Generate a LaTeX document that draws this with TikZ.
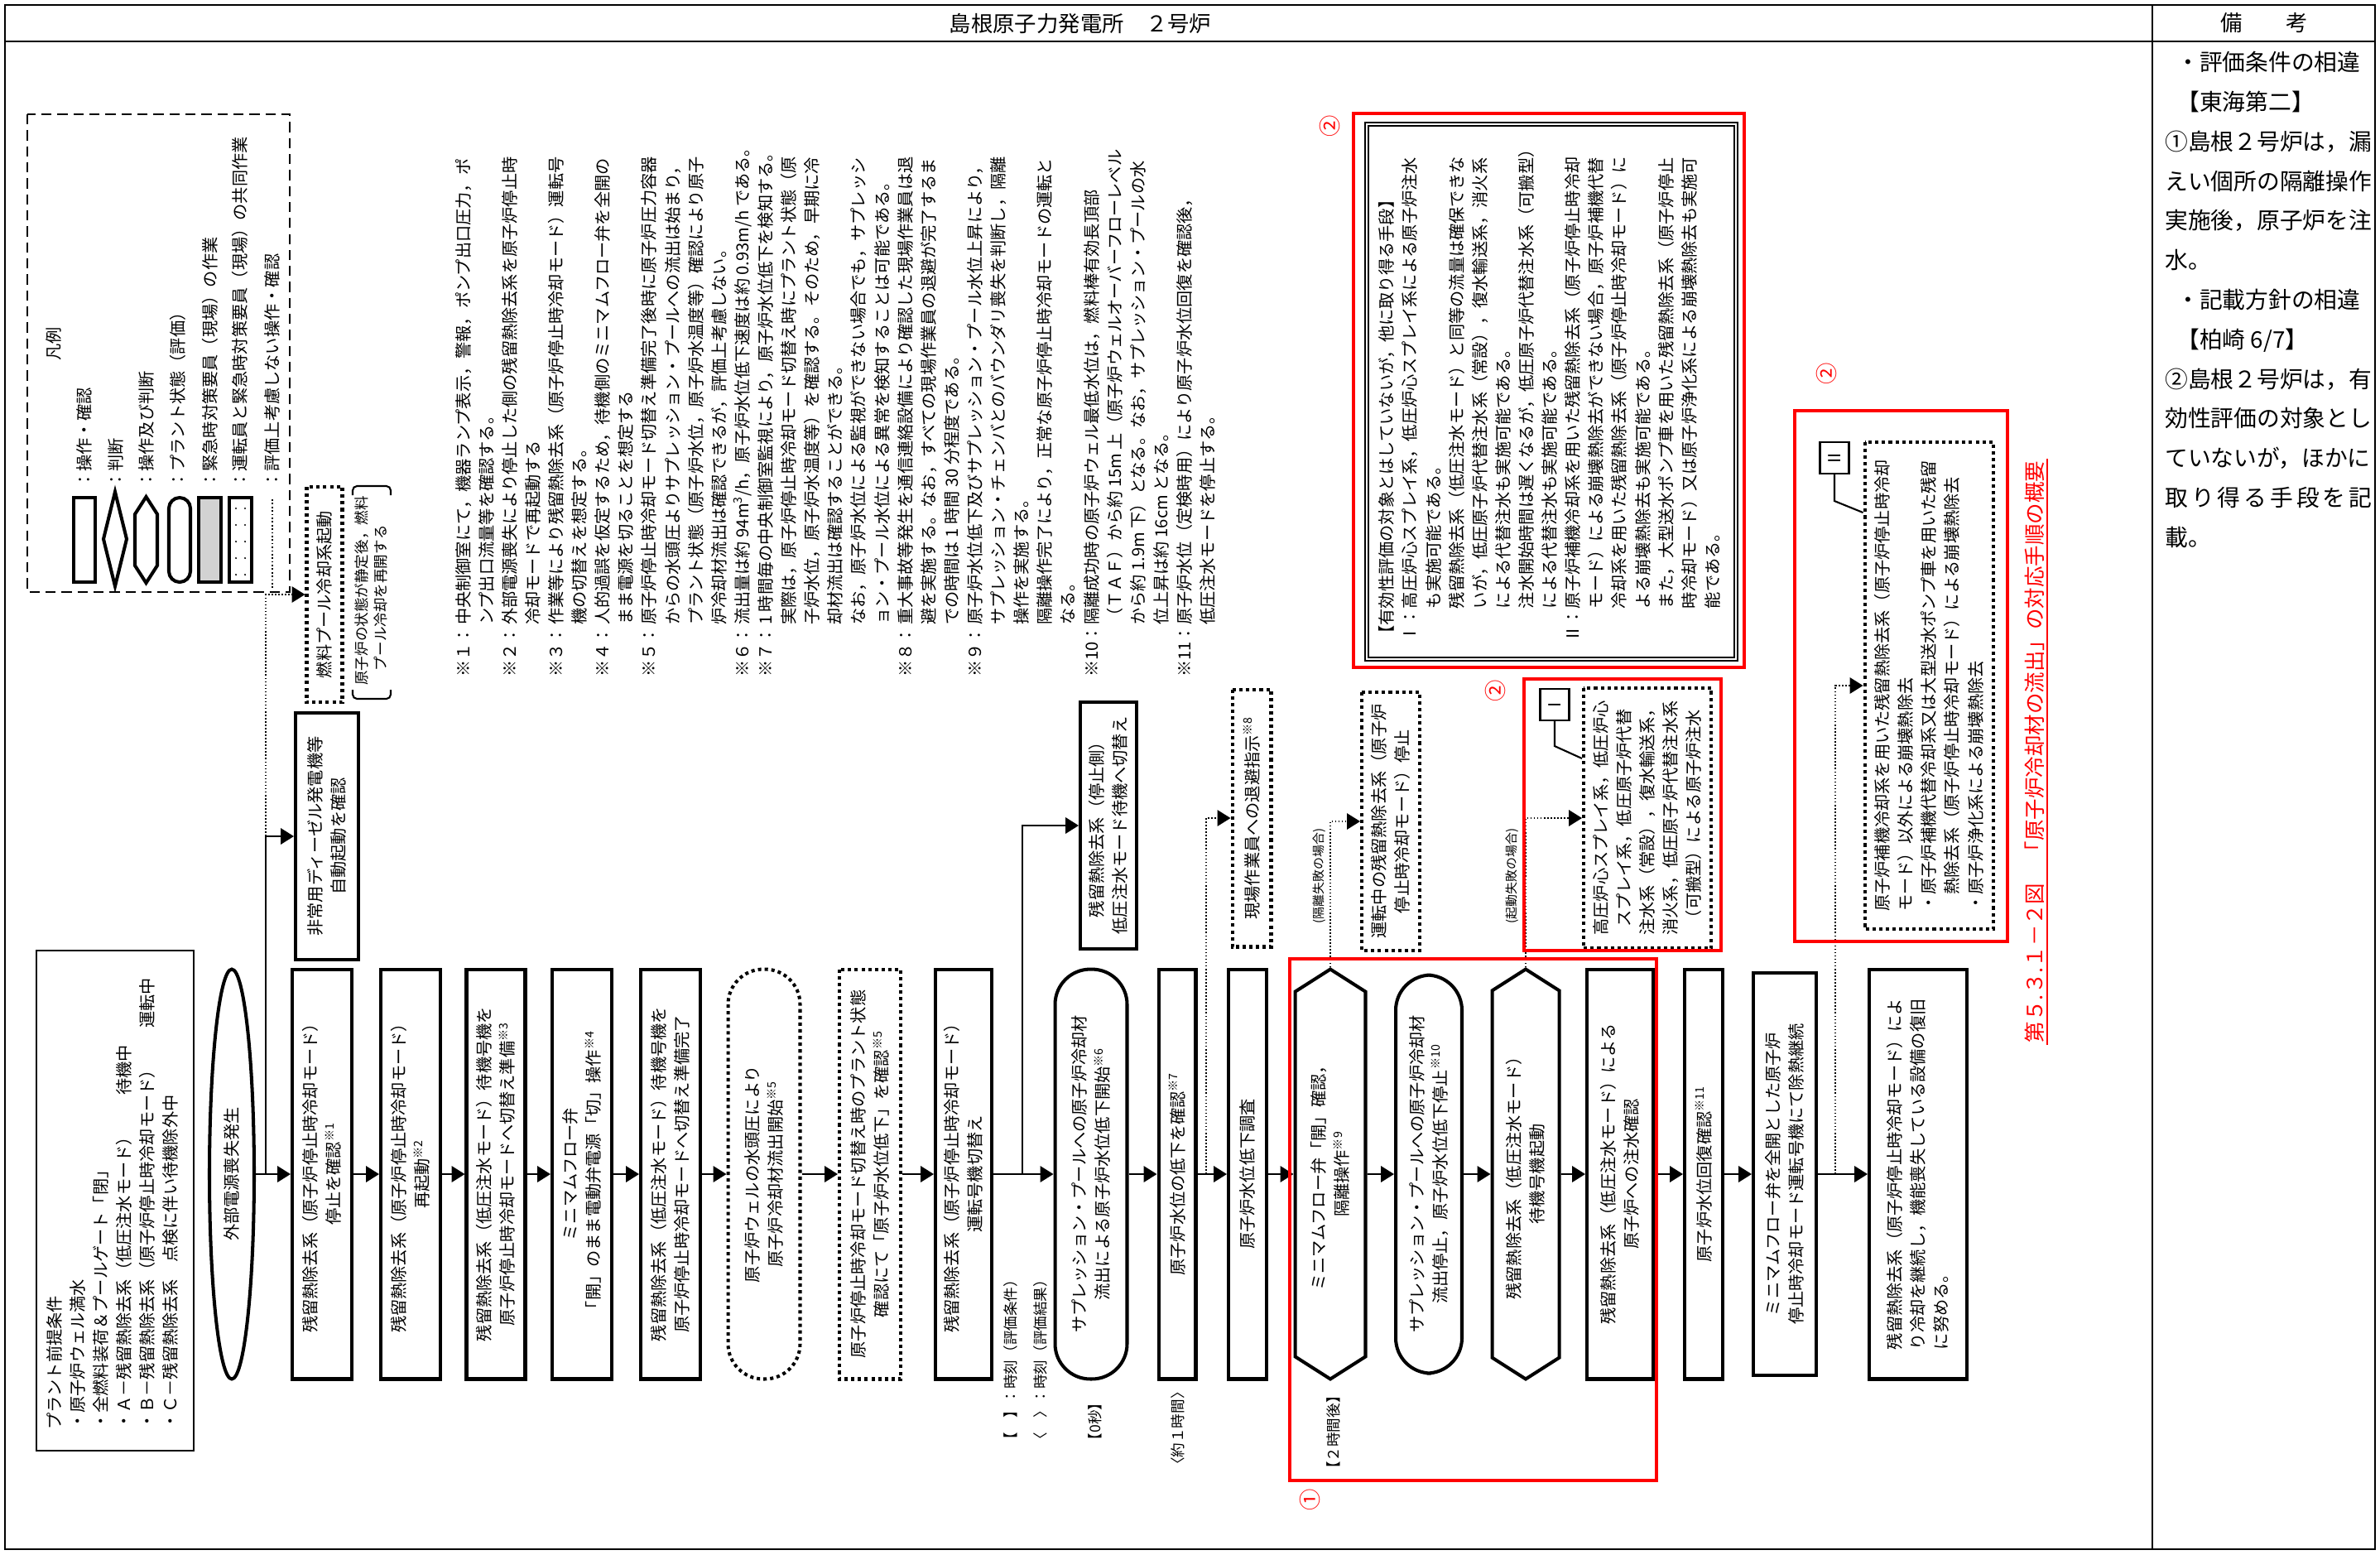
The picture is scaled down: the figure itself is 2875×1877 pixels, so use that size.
\documentclass[tikz,border=0pt]{standalone}
\usepackage{fontspec}
\setmainfont{Noto Sans CJK JP}
\usetikzlibrary{shapes.geometric,shapes.symbols,arrows.meta,positioning}
\newcommand\fs{\fontsize{11.5}{16}\selectfont}
\newcommand\sfs{\fontsize{10}{13.5}\selectfont}
\newcommand\tfs{\fontsize{8.5}{10}\selectfont}
\newcommand\rfs{\fontsize{15.8}{27.2}\selectfont}
\newcommand\hfs{\fontsize{15}{18}\selectfont}
\newcommand\cfs{\fontsize{14.5}{18}\selectfont}
\newcommand\nt[1]{\textsuperscript{※#1}}

\begin{document}
\begin{tikzpicture}[x=0.02cm, y=-0.02cm,
    proc/.style={rectangle, draw, line width=2.3pt, rotate=90, align=center, font=\fs, minimum width=9.9cm, inner sep=2pt},
    plant/.style={proc, rounded corners=0.85cm},
    judge/.style={proc, signal, signal to=east and west, signal pointer angle=115},
    field/.style={proc, dash pattern=on 2.3pt off 2.3pt},
    fieldplant/.style={plant, dash pattern=on 2.3pt off 2.3pt},
    tag/.style={draw, line width=1.2pt, rotate=90, font=\fs, minimum width=0.76cm, minimum height=0.7cm, inner sep=0pt},
    lbl/.style={rotate=90, font=\sfs, inner sep=1pt},
    txt/.style={rotate=90, font=\fs, align=left, inner sep=0pt},
    circnum/.style={rotate=90, text=red, font=\hfs, inner sep=0pt},
    redbox/.style={draw=red, line width=2.6pt},
    arrow/.style={-{Triangle[length=9pt, width=11pt]}, line width=1.1pt},
    dotarrow/.style={arrow, line width=0.9pt, dash pattern=on 0.9pt off 1.4pt},
    lead/.style={line width=1.2pt}
  ]
  \useasboundingbox (0,0) rectangle (2875,1877);

  % page frame
  \draw[line width=1pt] (6,6) rectangle (2869,1871);
  \draw[line width=1pt] (6,50) -- (2869,50);
  \draw[line width=1pt] (2600,6) -- (2600,1871);
  \node[font=\hfs] (title) at (1305,28) {島根原子力発電所　２号炉};
  \node[font=\hfs] (remhead) at (2735,28) {備　　考};
  \node[anchor=north west, font=\rfs, align=left, inner sep=0pt] (remarks) at (2615,62) {%
    \hspace*{0.5em}・評価条件の相違\\
    \hspace*{0.5em}【東海第二】\\
    ①島根２号炉は，漏\\
    えい個所の隔離操作\\
    実施後，原子炉を注\\
    水。\\
    \hspace*{0.5em}・記載方針の相違\\
    \hspace*{0.5em}【柏崎 6/7】\\
    ②島根２号炉は，有\\
    効性評価の対象とし\\
    ていないが，ほかに\\
    \makebox[9em][s]{取\hfill り\hfill 得\hfill る\hfill 手\hfill 段\hfill を\hfill 記}\\
    載。};

  % legend
  \draw[line width=1.5pt, dash pattern=on 7pt off 4pt] (33,138) rectangle (350,715);
  \node[lbl, font=\fs] (legtitle) at (65,415) {凡例};
  \draw[line width=2.3pt] (89,601) rectangle (115,703);
  \draw[line width=2.3pt] (139,594) -- (153,651) -- (139,708) -- (125,651) -- cycle;
  \draw[line width=2.3pt] (163,621) -- (176.5,600) -- (190,621) -- (190,683) -- (176.5,704) -- (163,683) -- cycle;
  \draw[line width=2.3pt, rounded corners=0.26cm] (204,601) rectangle (230,703);
  \draw[line width=2.3pt, fill=gray!35] (240,601) rectangle (267,703);
  \draw[line width=2.3pt] (277,601) rectangle (304,703);
  \foreach \yy in {614,634,...,694} {\fill (285,\yy) circle (0.7pt); \fill (296,\yy) circle (0.7pt);}
  \draw[line width=1.1pt, dash pattern=on 1pt off 1.5pt] (329,603) -- (329,710);
  \node[txt, anchor=west] (leg1) at (102,590) {：操作・確認};
  \node[txt, anchor=west] (leg2) at (140,590) {：判断};
  \node[txt, anchor=west] (leg3) at (177,590) {：操作及び判断};
  \node[txt, anchor=west] (leg4) at (215,590) {：プラント状態（評価）};
  \node[txt, anchor=west] (leg5) at (254,590) {：緊急時対策要員（現場）の作業};
  \node[txt, anchor=west] (leg6) at (290,590) {：運転員と緊急時対策要員（現場）の共同作業};
  \node[txt, anchor=west] (leg7) at (329,590) {：評価上考慮しない操作・確認};

  % plant conditions
  \draw[line width=1pt] (44,1148) rectangle (234,1752);
  \node[txt, anchor=north west] (cond) at (56,1727) {プラント前提条件\\・原子炉ウェル満水\\・全燃料装荷＆プールゲート「閉」\\・Ａ－残留熱除去系（低圧注水モード）　　待機中\\・Ｂ－残留熱除去系（原子炉停止時冷却モード）　　運転中\\・Ｃ－残留熱除去系　点検に伴い待機除外中};

  % notes
  \node[txt, anchor=north west] (notes) at (547,818) {%
    \begin{tabular}{@{}l@{}l@{}}
    ※１：& 中央制御室にて，機器ランプ表示，警報，ポンプ出口圧力，ポ\\
         & ンプ出口流量等を確認する。\\
    ※２：& 外部電源喪失により停止した側の残留熱除去系を原子炉停止時\\
         & 冷却モードで再起動する\\
    ※３：& 作業等により残留熱除去系（原子炉停止時冷却モード）運転号\\
         & 機の切替えを想定する。\\
    ※４：& 人的過誤を仮定するため，待機側のミニマムフロー弁を全開の\\
         & まま電源を切ることを想定する\\
    ※５：& 原子炉停止時冷却モード切替え準備完了後時に原子炉圧力容器\\
         & からの水頭圧よりサプレッション・プールへの流出は始まり，\\
         & プラント状態（原子炉水位，原子炉水温度等）確認により原子\\
         & 炉冷却材流出は確認できるが，評価上考慮しない。\\
    ※６：& 流出量は約 94m\textsuperscript{3}/h，原子炉水位低下速度は約 0.93m/h である。\\
    ※７：& 1 時間毎の中央制御室監視により，原子炉水位低下を検知する。\\
         & 実際は，原子炉停止時冷却モード切替え時にプラント状態（原\\
         & 子炉水位，原子炉水温度等）を確認する。そのため，早期に冷\\
         & 却材流出は確認することができる。\\
         & なお，原子炉水位による監視ができない場合でも，サプレッシ\\
         & ョン・プール水位による異常を検知することは可能である。\\
    ※８：& 重大事故等発生を通信連絡設備により確認した現場作業員は退\\
         & 避を実施する。なお，すべての現場作業員の退避が完了するま\\
         & での時間は 1 時間 30 分程度である。\\
    ※９：& 原子炉水位低下及びサプレッション・プール水位上昇により，\\
         & サプレッション・チェンバとのバウンダリ喪失を判断し，隔離\\
         & 操作を実施する。\\
         & 隔離操作完了により，正常な原子炉停止時冷却モードの運転と\\
         & なる。\\
    ※10：& 隔離成功時の原子炉ウェル最低水位は，燃料棒有効長頂部\\
         & （ＴＡＦ）から約 15m 上（原子炉ウェルオーバーフローレベル\\
         & から約 1.9m 下）となる。なお，サプレッション・プールの水\\
         & 位上昇は約 16cm となる。\\
    ※11：& 原子炉水位（定検時用）により原子炉水位回復を確認後，\\
         & 低圧注水モードを停止する。
    \end{tabular}};

  % upper branch at the start
  \node[proc, minimum width=5.96cm, minimum height=1.52cm] (dg) at (395,1010) {非常用ディーゼル発電機等\\自動起動を確認};
  \node[field, minimum width=5.2cm, minimum height=0.86cm] (fpc) at (392,718) {燃料プール冷却系起動};
  \node[txt, font=\sfs, anchor=north west] (fpcnote) at (428,828) {原子炉の状態が静定後，燃料\\　プール冷却を再開する};
  \draw[line width=1.2pt, rounded corners=3pt] (426,598) -- (426,587) -- (472,587) -- (472,598);
  \draw[line width=1.2pt, rounded corners=3pt] (426,833) -- (426,844) -- (472,844) -- (472,833);

  % main sequence
  \node[proc, ellipse, minimum height=1.08cm] (ext) at (280,1418) {外部電源喪失発生};
  \node[proc, minimum height=1.44cm] (b1) at (389,1418) {残留熱除去系（原子炉停止時冷却モード）\\停止を確認\nt{1}};
  \node[proc, minimum height=1.44cm] (b2) at (496,1418) {残留熱除去系（原子炉停止時冷却モード）\\再起動\nt{2}};
  \node[proc, minimum height=1.42cm] (b3) at (599,1418) {残留熱除去系（低圧注水モード）待機号機を\\原子炉停止時冷却モードへ切替え準備\nt{3}};
  \node[proc, minimum height=1.44cm] (b4) at (703,1418) {ミニマムフロー弁\\「開」のまま電動弁電源「切」操作\nt{4}};
  \node[proc, minimum height=1.44cm] (b5) at (810,1418) {残留熱除去系（低圧注水モード）待機号機を\\原子炉停止時冷却モードへ切替え準備完了};
  \node[fieldplant, minimum height=1.74cm] (flow) at (923,1418) {原子炉ウェルの水頭圧により\\原子炉冷却材流出開始\nt{5}};
  \node[field, minimum height=1.48cm] (chk) at (1051,1418) {原子炉停止時冷却モード切替え時のプラント状態\\確認にて「原子炉水位低下」を確認\nt{5}};
  \node[proc, minimum height=1.36cm] (swap) at (1164,1418) {残留熱除去系（原子炉停止時冷却モード）\\運転号機切替え};
  \node[plant, minimum height=1.74cm] (drop) at (1318,1418) {サプレッション・プールへの原子炉冷却材\\流出による原子炉水位低下開始\nt{6}};
  \node[proc, minimum height=0.9cm] (lvl) at (1422,1418) {原子炉水位の低下を確認\nt{7}};
  \node[proc, minimum height=0.92cm] (inv) at (1507,1418) {原子炉水位低下調査};
  \node[judge, minimum height=1.7cm] (iso) at (1607,1418) {ミニマムフロー弁「開」確認，\\隔離操作\nt{9}};
  \node[plant, minimum height=1.6cm, minimum width=9.62cm] (stop) at (1726,1418) {サプレッション・プールへの原子炉冷却材\\流出停止，原子炉水位低下停止\nt{10}};
  \node[judge, minimum height=1.62cm] (start) at (1843,1418) {残留熱除去系（低圧注水モード）\\待機号機起動};
  \node[proc, minimum height=1.6cm] (inj) at (1957,1418) {残留熱除去系（低圧注水モード）による\\原子炉への注水確認};
  \node[proc, minimum height=0.92cm] (rec) at (2058,1418) {原子炉水位回復確認\nt{11}};
  \node[proc, minimum height=1.52cm, minimum width=9.72cm] (cont) at (2156,1418) {ミニマムフロー弁を全開とした原子炉\\停止時冷却モード運転号機にて除熱継続};
  \node[proc, minimum height=2.36cm, align=left] (fin) at (2317,1418) {残留熱除去系（原子炉停止時冷却モード）によ\\り冷却を継続し，機能喪失している設備の復旧\\に努める。};

  % time labels
  \node[lbl, anchor=west] (keyA) at (1221,1750) {【　】：時刻（評価条件）};
  \node[lbl, anchor=west] (keyB) at (1257,1750) {〈　〉：時刻（評価結果）};
  \node[lbl] (t0) at (1323,1717) {【0秒】};
  \node[lbl] (t1) at (1423,1725) {〈約１時間〉};
  \node[lbl] (t2) at (1611,1730) {【２時間後】};

  % upper branches
  \node[proc, minimum width=5.96cm, minimum height=1.36cm] (rhrs) at (1339,997) {残留熱除去系（停止側）\\低圧注水モード待機へ切替え};
  \node[field, minimum width=6.22cm, minimum height=0.94cm] (evac) at (1512,988) {現場作業員への退避指示\nt{8}};
  \node[field, minimum width=6.24cm, minimum height=1.4cm] (halt) at (1680,992) {運転中の残留熱除去系（原子炉\\停止時冷却モード）停止};
  \node[lbl, font=\tfs] (fail1) at (1594,1058) {(隔離失敗の場合)};
  \node[lbl, font=\tfs] (fail2) at (1827,1058) {(起動失敗の場合)};
  \node[field, minimum width=6.3cm, minimum height=3.08cm] (optI) at (1990,988) {高圧炉心スプレイ系，低圧炉心\\スプレイ系，低圧原子炉代替\\注水系（常設），復水輸送系，\\消火系，低圧原子炉代替注水系\\（可搬型）による原子炉注水};
  \node[tag] (tagI) at (1878,851) {Ⅰ};
  \node[field, minimum width=11.78cm, minimum height=3.1cm, align=left] (optII) at (2330,828) {原子炉補機冷却系を用いた残留熱除去系（原子炉停止時冷却\\モード）以外による崩壊熱除去\\・原子炉補機代替冷却系又は大型送水ポンプ車を用いた残留\\　熱除去系（原子炉停止時冷却モード）による崩壊熱除去\\・原子炉浄化系による崩壊熱除去};
  \node[tag] (tagII) at (2216,553) {Ⅱ};
  \node[rotate=90, draw, double, line width=0.8pt, double distance=1.6pt, minimum width=12.92cm, minimum height=8.92cm, inner sep=0pt, font=\fs] (alt) at (1874,473) {%
    \begin{tabular}{@{}l@{}l@{}}
    \multicolumn{2}{@{}l@{}}{【有効性評価の対象とはしていないが，他に取り得る手段】}\\
    Ⅰ：& 高圧炉心スプレイ系，低圧炉心スプレイ系による原子炉注水\\
       & も実施可能である。\\
       & 残留熱除去系（低圧注水モード）と同等の流量は確保できな\\
       & いが，低圧原子炉代替注水系（常設），復水輸送系，消火系\\
       & による代替注水も実施可能である。\\
       & 注水開始時間は遅くなるが，低圧原子炉代替注水系（可搬型）\\
       & による代替注水も実施可能である。\\
    Ⅱ：& 原子炉補機冷却系を用いた残留熱除去系（原子炉停止時冷却\\
       & モード）による崩壊熱除去ができない場合，原子炉補機代替\\
       & 冷却系を用いた残留熱除去系（原子炉停止時冷却モード）に\\
       & よる崩壊熱除去も実施可能である。\\
       & また，大型送水ポンプ車を用いた残留熱除去系（原子炉停止\\
       & 時冷却モード）又は原子炉浄化系による崩壊熱除去も実施可\\
       & 能である。
    \end{tabular}};

  % connectors
  \draw[arrow] (ext) -- (b1);
  \draw[arrow] (b1) -- (b2);
  \draw[arrow] (b2) -- (b3);
  \draw[arrow] (b3) -- (b4);
  \draw[arrow] (b4) -- (b5);
  \draw[arrow] (b5) -- (flow);
  \draw[arrow] (flow) -- (chk);
  \draw[arrow] (chk) -- (swap);
  \draw[arrow] (swap) -- (drop);
  \draw[arrow] (drop) -- (lvl);
  \draw[arrow] (lvl) -- (inv);
  \draw[arrow] (inv) -- (iso);
  \draw[arrow] (iso) -- (stop);
  \draw[arrow] (stop) -- (start);
  \draw[arrow] (start) -- (inj);
  \draw[arrow] (inj) -- (rec);
  \draw[arrow] (rec) -- (cont);
  \draw[arrow] (cont) -- (fin);
  \coordinate (jdg) at (321,1418);
  \coordinate (jfp) at (321,1010);
  \draw[arrow] (jdg) |- (dg);
  \draw[dotarrow] (jfp) |- (fpc);
  \coordinate (jsw) at (1235,1418);
  \draw[arrow] (jsw) |- (rhrs);
  \coordinate (jev) at (1457,1418);
  \draw[dotarrow] (jev) |- (evac);
  \draw[dotarrow] (iso.east) |- (halt);
  \draw[dotarrow] (start.east) |- (optI);
  \coordinate (jre) at (2217,1418);
  \draw[dotarrow] (jre) |- (optII);
  \draw[lead] (tagI.west) -- ++(0,30) -- ([yshift=1.44cm]optI.north);
  \draw[lead] (tagII.west) -- ++(0,32) -- ([yshift=4.18cm]optII.north);

  % red annotations
  \draw[redbox] (1635,137) rectangle (2107,806);
  \draw[redbox] (1841,820) rectangle (2079,1148);
  \draw[redbox] (2168,496) rectangle (2425,1137);
  \draw[redbox] (1558,1158) rectangle (2001,1788);
  \node[circnum] (c1) at (1582,1811) {①};
  \node[circnum] (c2a) at (1606,152) {②};
  \node[circnum] (c2b) at (1806,834) {②};
  \node[circnum] (c2c) at (2206,451) {②};
  \node[rotate=90, text=red, font=\cfs, inner sep=1.5pt] (cap) at (2458,908) {第５.３.１－２図　「原子炉冷却材の流出」の対応手順の概要};
  \draw[red, line width=1.3pt] (cap.south west) -- (cap.south east);
\end{tikzpicture}
\end{document}
